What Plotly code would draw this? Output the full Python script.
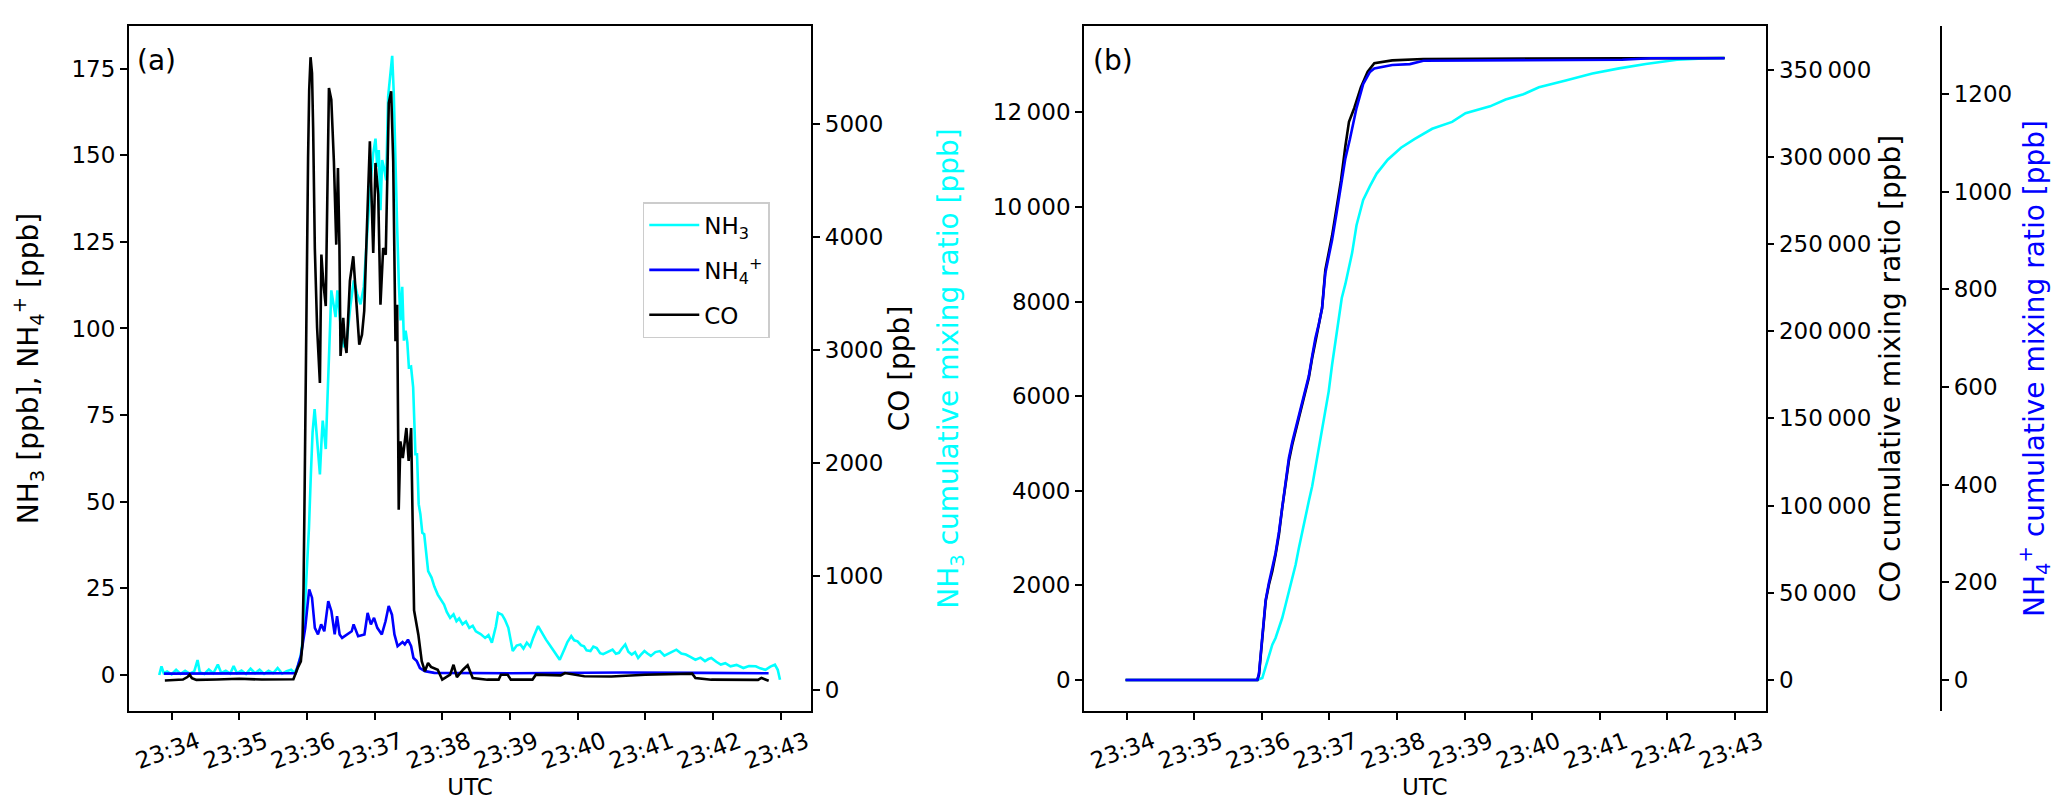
import pandas as pd
import plotly.graph_objects as go

# times are seconds after 23:34:00 UTC, values in ppb

# panel (a) - NH3
nh3_t = [-11, -9, -7, -4, 0, 4, 8, 12, 16, 20, 23, 25, 29, 33, 37, 41, 44, 48, 52, 55,
         58, 62, 66, 70, 74, 78, 82, 86, 90, 94, 98, 102, 106, 109, 112, 114.6, 117, 119,
         120.5, 121.8, 123.5, 125, 126.8, 128, 129.5, 131.5, 133, 134, 135.5, 136.7, 138,
         139, 140.5, 141.6, 143.4, 145.4, 147, 150, 152.8, 155.5, 158.7, 161.6, 164.5,
         167.5, 170.4, 173.4, 176.3, 178.8, 180.8, 182.3, 183.7, 185.2, 186.7, 188.1,
         190.3, 192, 193.5, 195.6, 197, 198.6, 200, 201.5, 203, 204.5, 206, 207.5, 209,
         210.4, 212.3, 214.2, 216.2, 217.6, 219.1, 220.6, 222.3, 224, 225.5, 227.5, 230.5,
         233, 236, 239, 241.6, 244, 247, 250, 252.6, 255, 258, 261, 264, 267, 269.8, 274,
         278, 281, 284, 287.5, 289.5, 293, 295.5, 298.6, 302.5, 306, 309.3, 312, 315, 318,
         320.6, 325, 329, 332, 335, 338, 340.4, 344.2, 348.8, 351, 354.4, 357, 360, 363,
         365.7, 368, 371.4, 374, 377, 380, 382.7, 387, 391, 394, 396.7, 399, 402.3, 405,
         408, 411, 413.7, 416, 419.3, 422, 425, 429, 433, 437, 441.6, 444, 447.6, 452, 456,
         460, 464.5, 469, 473, 476, 478.6, 483, 487, 491, 495.6, 501, 507, 512, 518, 522,
         526.6, 531, 535, 537.5, 539.5]
nh3_ppb = [0.0, 2.5, 0.5, 1.0, 0.2, 1.5, 0.3, 1.2, 0.4, 1.0, 4.3, 0.8, 0.3, 1.6, 0.5, 3.0,
           0.6, 1.2, 0.4, 2.6, 0.5, 1.3, 0.3, 1.8, 0.5, 1.5, 0.3, 1.2, 0.5, 2.0, 0.4, 1.1,
           1.5, 0.6, 2.5, 5.9, 12, 25, 35, 42.5, 58, 70, 76.7, 72, 64, 57.9, 68, 73.4, 69,
           65.2, 78, 90, 100.4, 111, 107, 103.3, 111, 100.4, 94.6, 97, 107, 113.9, 110, 107,
           112, 127.4, 141.8, 150.5, 154.8, 146.7, 151.5, 134.1, 148.6, 146.7, 142.8, 166.9,
           172.7, 178.7, 167.9, 143.8, 129.3, 112.9, 102.3, 112, 96.5, 99.4, 96, 88.8, 89,
           83, 63.7, 63.7, 49.3, 46.4, 41, 40.6, 35, 30, 28.1, 25.5, 23.2, 21.5, 20.3, 18.2,
           16.5, 17.5, 15.5, 16.3, 14.6, 15.4, 13.6, 14.2, 12.6, 11.8, 10.7, 11.5, 9.3, 14,
           17.9, 17.4, 16, 13.6, 6.9, 8.5, 8.8, 7.6, 9.3, 8.2, 10.7, 14.1, 11.7, 10.2, 8.8,
           7.4, 6.4, 4.4, 7.8, 9.5, 11.2, 10.0, 9.7, 8.6, 8.3, 7.1, 6.9, 8.2, 7.8, 6.3, 6.0,
           6.8, 7.3, 6.1, 6.4, 7.5, 8.8, 6.7, 5.9, 6.6, 4.9, 5.8, 6.9, 6.2, 5.5, 6.6, 6.9,
           5.6, 6.4, 6.9, 7.3, 6.2, 5.9, 5.2, 4.4, 5.0, 4.0, 4.6, 4.9, 3.8, 3.0, 3.4, 2.5, 2.9,
           2.0, 2.6, 2.5, 1.9, 1.5, 2.4, 3.0, 1.5, -1.4]

# panel (a) - NH4+
nh4_t = [-6.8, 50, 110, 114.6, 118.5, 120.5, 122, 124.5, 127, 129.8, 132.6, 135.4, 138.9,
         141.7, 144.6, 146.7, 149, 151.2, 155.7, 159.7, 161.4, 165.4, 171, 173.8, 176.7,
         179.5, 182.4, 186.4, 189.7, 192.5, 195.4, 197.6, 200.4, 204.8, 206.8, 209.6,
         212.4, 214.5, 217.4, 220.2, 224.6, 233, 300, 400, 470, 529.4]
nh4_ppb = [0.4, 0.4, 0.5, 5.5, 13.6, 20, 24.7, 22.3, 13.6, 11.7, 14.6, 12.6, 21.3, 18.4,
           11.7, 17, 11.7, 10.7, 11.7, 12.6, 14.6, 11.2, 11.7, 17.9, 14.6, 16.5, 13.6, 11.7,
           15.5, 19.9, 17.4, 11.7, 8.3, 9.5, 8.8, 10.2, 8.3, 4.9, 4.0, 2.0, 1.1, 0.6, 0.5,
           0.7, 0.6, 0.5]

# panel (a) - CO
co_t = [-6, 0, 10, 14, 16, 18, 22, 40, 60, 80, 100, 108, 111.8, 114.6, 116, 117, 118, 119,
        120, 121, 122, 123.2, 124.5, 125.5, 127, 129, 131.5, 132.8, 134.5, 136.7, 138,
        139.5, 141.6, 143.9, 146, 147.5, 148.8, 149.8, 152.2, 153.6, 155.1, 158.1, 161.1,
        163.6, 166.4, 168.8, 170.8, 172.8, 175.8, 178.8, 180.8, 183.2, 185.2, 187.6, 189.9,
        192.6, 194.7, 196.5, 198.5, 200, 201.4, 202.9, 205, 208.2, 210.2, 212.4, 213.8, 215,
        218.8, 221.8, 224.6, 227.4, 230, 236, 240, 247, 250, 253, 258.4, 262.5, 267, 280,
        290, 292, 298, 300.8, 320, 323, 345, 348.8, 366, 390, 420, 440, 461.7, 464.5, 478.6,
        520, 523, 527, 529.5]
co_ppb = [80, 85, 88, 110, 131, 100, 85, 88, 95, 88, 92, 90, 190, 249, 400, 900, 1800, 2900,
          3900, 4700, 5300, 5590, 5450, 4965, 3900, 3200, 2710, 3845, 3600, 3390, 4300, 5318,
          5215, 4670, 3933, 4611, 3933, 2949, 3285, 3064, 2975, 3612, 3830, 3491, 3049, 3137,
          3346, 3965, 4847, 3859, 4655, 4375, 3402, 3903, 3844, 5186, 5289, 4670, 3079, 3402,
          1590, 2194, 2047, 2312, 2020, 2312, 1500, 700, 485, 250, 161, 234, 200, 175, 87, 131,
          219, 110, 175, 214, 102, 87, 87, 131, 131, 87, 87, 131, 125, 146, 117, 115, 131, 137,
          140, 102, 87, 85, 102, 87, 78]

# panel (b) - cumulative mixing ratios
nh3_cum_t = [-1, 116, 120.4, 123.4, 126.3, 129.3, 132.2, 135.2, 138.1, 141.1, 144, 147, 150,
             152.9, 155.8, 158.8, 161.7, 164.7, 167.6, 170.6, 173.5, 176.5, 179.4, 182.4,
             185.3, 188.3, 191, 194.2, 200.2, 204.1, 210, 216, 222, 231.8, 243.6, 255.5,
             271.3, 289, 300.9, 322.7, 336.5, 352.3, 366.1, 389.9, 413.6, 437.3, 461, 488.7,
             512.4, 531]
nh3_cum = [0, 0, 42, 290, 535, 746, 888, 1099, 1311, 1592, 1875, 2156, 2437, 2790, 3143,
           3461, 3778, 4095, 4482, 4869, 5258, 5680, 6103, 6665, 7160, 7653, 8076, 8374, 9031,
           9614, 10150, 10440, 10707, 10999, 11253, 11437, 11654, 11800, 11982, 12128, 12274,
           12384, 12530, 12676, 12821, 12931, 13024, 13113, 13143, 13149]

co_cum_t = [-1, 116, 117.5, 120.4, 123.4, 126.3, 129.3, 132.2, 135.2, 138.1, 141.1, 144, 147,
            150, 152.9, 155.8, 158.8, 161.7, 164.7, 167.6, 170.6, 173.5, 176.4, 182.4, 186.4,
            190.3, 194.2, 197.4, 202.1, 208, 214, 219.9, 235.8, 263.4, 531]
co_cum = [0, 0, 3040, 22190, 45130, 54650, 62330, 71850, 83320, 98630, 111990, 125400,
          134940, 142600, 150230, 157860, 165550, 173170, 184630, 195130, 203730, 213300,
          235100, 254800, 270650, 286470, 306200, 320070, 328000, 339860, 348740, 353680,
          355280, 356080, 356650]

nh4_cum_t = [-1, 116, 117.5, 120.4, 123.4, 126.3, 129.3, 132.2, 135.2, 138.1, 141.1, 144,
             147, 150, 152.9, 155.8, 158.8, 161.7, 164.7, 167.6, 170.6, 173.5, 176.4, 182.4,
             186.4, 190.3, 194.2, 198.2, 204.1, 210, 216, 219.9, 235.8, 251.5, 263.4, 440,
             465, 531]
nh4_cum = [0, 0, 14, 86, 164, 199, 227, 260, 303, 356, 405, 454, 487, 514, 540, 569, 596,
           622, 663, 700, 729, 761, 833, 901, 956, 1011, 1068, 1107, 1171, 1220, 1245, 1252,
           1259, 1261, 1268, 1270, 1273, 1273]

minute_labels = ["23:34", "23:35", "23:36", "23:37", "23:38",
                 "23:39", "23:40", "23:41", "23:42", "23:43"]
nh3_cum_ticks = [0, 2000, 4000, 6000, 8000, 10000, 12000]
co_cum_ticks = [0, 50000, 100000, 150000, 200000, 250000, 300000, 350000]

BASE = pd.Timestamp("2021-08-01 23:34:00")
FONT = "DejaVu Sans"
FS = 23


def to_time(sec):
    return BASE + pd.to_timedelta(pd.Series(sec), unit="s")


def spaced(v):
    # thin-space thousands separator for 5+ digit numbers
    return f"{v:,}".replace(",", "\u2009") if v >= 10000 else str(v)


def main():
    fig = go.Figure()

    # panel (a); separate legend groups so tracegroupgap spaces the legend rows
    fig.add_trace(go.Scatter(x=to_time(nh3_t), y=nh3_ppb, name="NH<sub>3</sub>",
                             legendgroup="nh3", mode="lines",
                             line=dict(color="#00ffff", width=2.6), xaxis="x", yaxis="y"))
    fig.add_trace(go.Scatter(x=to_time(nh4_t), y=nh4_ppb, name="NH<sub>4</sub><sup>+</sup>",
                             legendgroup="nh4", mode="lines",
                             line=dict(color="#0000ff", width=2.6), xaxis="x", yaxis="y"))
    fig.add_trace(go.Scatter(x=to_time(co_t), y=co_ppb, name="CO",
                             legendgroup="co", mode="lines",
                             line=dict(color="black", width=2.6), xaxis="x", yaxis="y2"))

    # panel (b)
    fig.add_trace(go.Scatter(x=to_time(nh3_cum_t), y=nh3_cum, mode="lines", showlegend=False,
                             line=dict(color="#00ffff", width=2.6), xaxis="x2", yaxis="y3"))
    fig.add_trace(go.Scatter(x=to_time(co_cum_t), y=co_cum, mode="lines", showlegend=False,
                             line=dict(color="black", width=2.6), xaxis="x2", yaxis="y4"))
    fig.add_trace(go.Scatter(x=to_time(nh4_cum_t), y=nh4_cum, mode="lines", showlegend=False,
                             line=dict(color="#0000ff", width=2.6), xaxis="x2", yaxis="y5"))

    tickvals = [pd.Timestamp(f"2021-08-01 {m}:00") for m in minute_labels]
    xrange = [BASE - pd.Timedelta(seconds=38), BASE + pd.Timedelta(seconds=567.4)]
    line = dict(showline=True, linecolor="black", linewidth=1.6, ticks="outside",
                ticklen=7, tickwidth=1.6, tickcolor="black", showgrid=False,
                zeroline=False, tickfont=dict(size=FS, color="black"))
    ydom = [109 / 812, 794 / 812]

    xax = dict(line, type="date", range=xrange, tickvals=tickvals, ticktext=minute_labels,
               tickangle=-20, ticklabelshift=26, mirror=True,
               title=dict(text="UTC", font=dict(size=FS), standoff=0))

    fig.update_layout(
        width=2067, height=812,
        margin=dict(l=0, r=0, t=0, b=0),
        paper_bgcolor="white", plot_bgcolor="white",
        font=dict(family=FONT, size=FS, color="black"),
        xaxis=dict(xax, domain=[118 / 2067, 802 / 2067], anchor="y"),
        yaxis=dict(line, domain=ydom, anchor="x", range=[-10.4, 187.3], tick0=0, dtick=25,
                   title=dict(text="NH<sub>3</sub> [ppb], NH<sub>4</sub><sup>+</sup> [ppb]",
                              standoff=44)),
        yaxis2=dict(line, overlaying="y", side="right", anchor="x", range=[-190, 5866],
                    tick0=0, dtick=1000, title=dict(text="CO [ppb]", standoff=0)),
        xaxis2=dict(xax, domain=[1075 / 2067, 1758 / 2067], anchor="y3"),
        yaxis3=dict(line, domain=ydom, anchor="x2", range=[-655, 13827],
                    tickvals=nh3_cum_ticks, ticktext=[spaced(v) for v in nh3_cum_ticks],
                    title=dict(text="NH<sub>3</sub> cumulative mixing ratio [ppb]",
                               font=dict(color="#00ffff"), standoff=26)),
        yaxis4=dict(line, overlaying="y3", side="right", anchor="x2", range=[-17800, 375000],
                    tickvals=co_cum_ticks, ticktext=[spaced(v) for v in co_cum_ticks],
                    title=dict(text="CO cumulative mixing ratio [ppb]", standoff=10)),
        yaxis5=dict(line, overlaying="y3", side="right", anchor="free", position=1934 / 2067,
                    range=[-63.5, 1339], tick0=0, dtick=200,
                    title=dict(text="NH<sub>4</sub><sup>+</sup> cumulative mixing ratio [ppb]",
                               font=dict(color="#0000ff"), standoff=12)),
        legend=dict(x=633 / 2067, y=1 - 194 / 812, xanchor="left", yanchor="top",
                    bgcolor="rgba(255,255,255,0.8)", bordercolor="#cccccc", borderwidth=1.5,
                    font=dict(size=FS), itemwidth=50, tracegroupgap=12),
        annotations=[
            dict(text="(a)", x=124 / 2067, y=1 - 52 / 812, xref="paper", yref="paper",
                 xanchor="left", yanchor="middle", showarrow=False, font=dict(size=28)),
            dict(text="(b)", x=1082 / 2067, y=1 - 52 / 812, xref="paper", yref="paper",
                 xanchor="left", yanchor="middle", showarrow=False, font=dict(size=28)),
        ],
    )

    fig.write_html("out.html")


if __name__ == "__main__":
    main()
